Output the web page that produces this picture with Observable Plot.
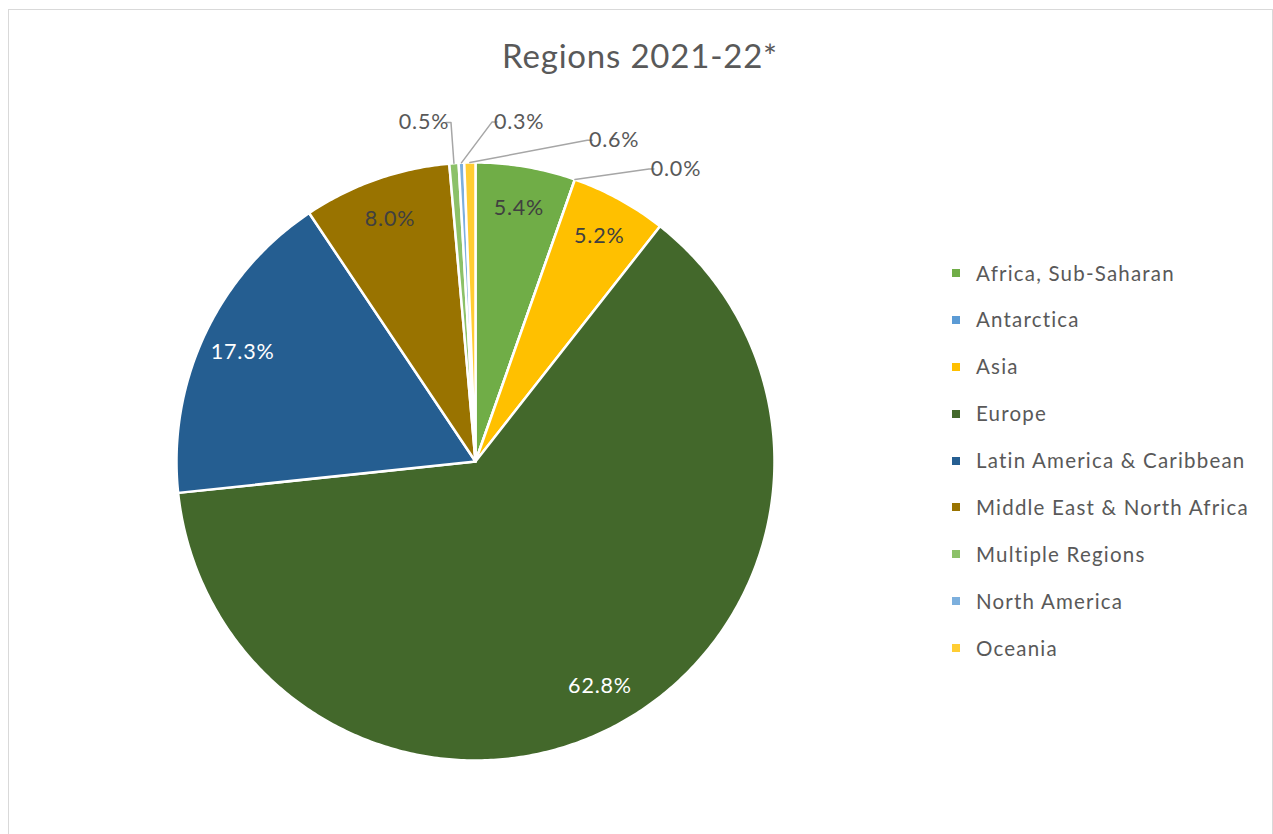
<!DOCTYPE html>
<html><head><meta charset="utf-8">
<script src="https://cdn.jsdelivr.net/npm/d3@7"></script>
<script src="https://cdn.jsdelivr.net/npm/@observablehq/plot@0.6"></script>
<style>
body{margin:0;background:#fff;font-family:Lato,"Noto Sans",sans-serif;}
#wrap{position:relative;width:1273px;height:834px;overflow:hidden;background:#fff;}
#frame{position:absolute;left:8px;top:9px;width:1265px;height:900px;border:1px solid #d9d9d9;box-sizing:border-box;}
#title{position:absolute;left:0;width:1280px;text-align:center;top:39px;font-size:33px;line-height:33px;letter-spacing:0.8px;color:#595959;white-space:nowrap;}
#chart{position:absolute;left:0;top:0;}
#legend{position:absolute;left:952px;top:249.5px;}
.row{height:46.9px;line-height:46.9px;font-size:20.5px;letter-spacing:1.2px;color:#595959;white-space:nowrap;display:flex;align-items:center;}
.sw{width:8px;height:8px;margin-right:16px;flex:none;}
</style>
</head><body>
<div id="wrap"><div id="frame"></div><div id="chart"></div><div id="title"></div><div id="legend"></div></div>
<script>
const chartTitle = "Regions 2021-22*";
const regions = ["Africa, Sub-Saharan","Antarctica","Asia","Europe","Latin America & Caribbean","Middle East & North Africa","Multiple Regions","North America","Oceania"];
const values = [5.4, 0.0, 5.2, 62.8, 17.3, 8.0, 0.5, 0.3, 0.6];
const colors = ["#70AD47","#5B9BD5","#FFC000","#43682B","#255E91","#997300","#8CC168","#7CAFDD","#FFCD33"];

const R = 299; // px per unit radius
const total = d3.sum(values);
let acc = 0;
const slices = regions.map((r, i) => {
  const a0 = acc / total * 2 * Math.PI;
  acc += values[i];
  const a1 = acc / total * 2 * Math.PI;
  return {region: r, value: values[i], a0, a1, mid: (a0 + a1) / 2, label: values[i].toFixed(1) + "%", color: colors[i]};
});

// polygon points for each slice (unit circle, y up, clockwise from 12 o'clock)
const pts = [];
for (const s of slices) {
  pts.push({region: s.region, x: 0, y: 0});
  const n = Math.max(2, Math.ceil((s.a1 - s.a0) / 0.01));
  for (let k = 0; k <= n; k++) {
    const a = s.a0 + (s.a1 - s.a0) * k / n;
    pts.push({region: s.region, x: Math.sin(a), y: Math.cos(a)});
  }
}

// inside labels
const inside = slices.filter(s => s.value >= 1).map(s => ({...s, x: 0.86 * Math.sin(s.mid), y: 0.86 * Math.cos(s.mid), dark: d3.lab(s.color).l >= 45}));

// outside labels: greedy placement avoiding overlaps (pixel boxes converted to units)
const small = slices.filter(s => s.value < 1).map(s => {
  let a = s.mid; if (a > Math.PI) a -= 2 * Math.PI; return {...s, a};
}).sort((p, q) => p.a - q.a);
const rOut = 340 / R, halfW = 20 / R, off = 7 / R, boxW = 94 / R, boxH = 28 / R;
const outside = [], leaders = [];
for (const d of small) {
  let th = d.a, pos;
  for (let it = 0; it < 400; it++) {
    const px = rOut * Math.sin(th), py = rOut * Math.cos(th);
    const side = Math.sin(th) >= 0 ? 1 : -1;
    pos = {px, py, side, x: px + side * (halfW + off), y: py};
    if (!outside.some(o => Math.abs(o.x - pos.x) < boxW && Math.abs(o.y - pos.y) < boxH)) break;
    th += 0.25 * Math.PI / 180;
  }
  outside.push({...d, ...pos});
  leaders.push({region: d.region, x: Math.sin(d.a), y: Math.cos(d.a)},
               {region: d.region, x: pos.px, y: pos.py},
               {region: d.region, x: pos.px + pos.side * 5 / R, y: pos.py});
}

const chart = Plot.plot({
  width: 1273, height: 834,
  marginLeft: 176, marginRight: 1273 - 176 - 2 * R, marginTop: 162, marginBottom: 834 - 162 - 2 * R,
  x: {domain: [-1, 1], axis: null},
  y: {domain: [-1, 1], axis: null},
  color: {domain: regions, range: colors},
  style: {background: "transparent", fontFamily: "Lato, 'Noto Sans', sans-serif", letterSpacing: "0.8px"},
  marks: [
    Plot.line(pts, {x: "x", y: "y", z: "region", fill: "region", stroke: "white", strokeWidth: 2.5, strokeLinejoin: "round", curve: "linear-closed"}),
    Plot.line(leaders, {x: "x", y: "y", z: "region", stroke: "#a6a6a6", strokeWidth: 1.5}),
    Plot.text(inside.filter(d => d.dark), {x: "x", y: "y", text: "label", fill: "#404040", fontSize: 21.5}),
    Plot.text(inside.filter(d => !d.dark), {x: "x", y: "y", text: "label", fill: "#ffffff", fontSize: 21.5}),
    Plot.text(outside, {x: "x", y: "y", text: "label", fill: "#595959", fontSize: 21.5})
  ]
});
document.getElementById("chart").appendChild(chart);
document.getElementById("title").textContent = chartTitle;
const leg = document.getElementById("legend");
regions.forEach((r, i) => {
  const row = document.createElement("div"); row.className = "row";
  const sw = document.createElement("span"); sw.className = "sw"; sw.style.background = colors[i];
  const t = document.createElement("span"); t.textContent = r;
  row.appendChild(sw); row.appendChild(t); leg.appendChild(row);
});
</script>
</body></html>
